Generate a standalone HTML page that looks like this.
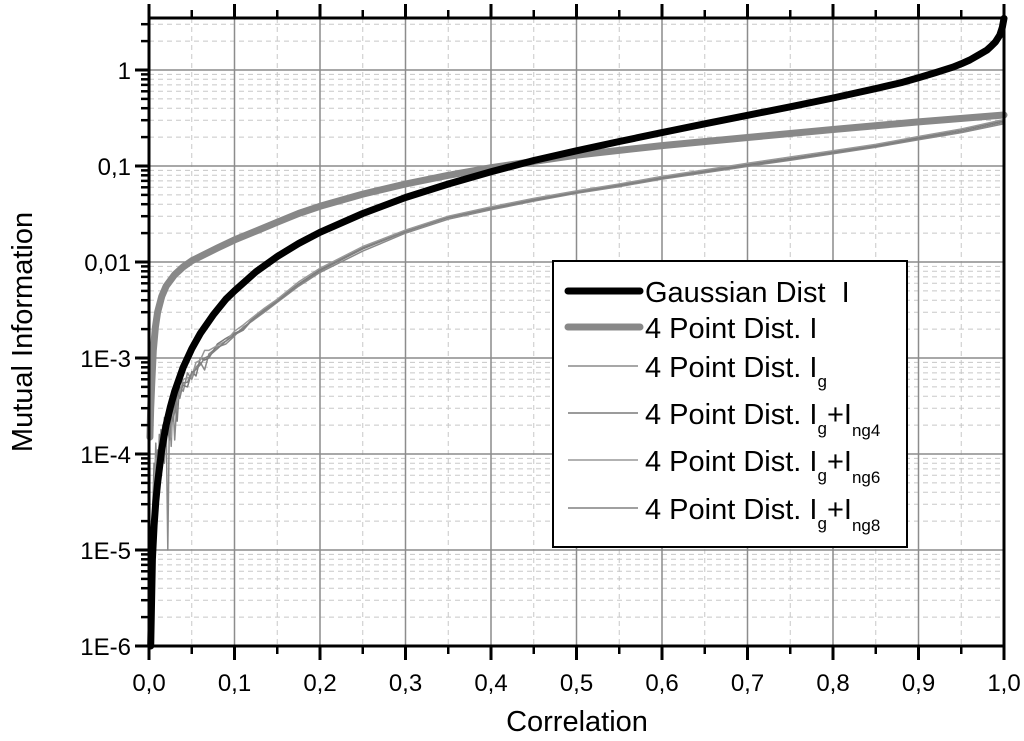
<!DOCTYPE html>
<html><head><meta charset="utf-8"><style>
html,body{margin:0;padding:0;background:#fff;}
svg{display:block;font-family:"Liberation Sans",Arial,sans-serif;}
</style></head><body>
<svg id="chart" width="1024" height="741" viewBox="0 0 1024 741" xmlns="http://www.w3.org/2000/svg">
<rect width="1024" height="741" fill="#fff"/>
<g id="grid"></g>
<g id="series"></g>
<g id="axes"></g>
<text x="32" y="332" font-size="29" text-anchor="middle" transform="rotate(-90 32 332)">Mutual Information</text>
<text x="577" y="731" font-size="29" text-anchor="middle">Correlation</text>
<g>
<rect x="553" y="261" width="354" height="286" fill="#fff" stroke="#000" stroke-width="2"/>
<line x1="568" y1="291" x2="640" y2="291" stroke="#000" stroke-width="7" stroke-linecap="round"/>
<text x="645" y="302" font-size="29" xml:space="preserve">Gaussian Dist  I</text>
<line x1="568" y1="327" x2="640" y2="327" stroke="#888" stroke-width="7" stroke-linecap="round"/>
<text x="645" y="338" font-size="29">4 Point Dist. I</text>
<line x1="568" y1="366" x2="638" y2="366" stroke="#8a8a8a" stroke-width="1.5"/>
<text x="645" y="377" font-size="29">4 Point Dist. I<tspan font-size="17" dy="10">g</tspan></text>
<line x1="568" y1="413" x2="638" y2="413" stroke="#7a7a7a" stroke-width="1.5"/>
<text x="645" y="424" font-size="29">4 Point Dist. I<tspan font-size="17" dy="10">g</tspan><tspan dy="-10">+I</tspan><tspan font-size="17" dy="12">ng4</tspan></text>
<line x1="568" y1="460" x2="638" y2="460" stroke="#999" stroke-width="1.5"/>
<text x="645" y="471" font-size="29">4 Point Dist. I<tspan font-size="17" dy="10">g</tspan><tspan dy="-10">+I</tspan><tspan font-size="17" dy="12">ng6</tspan></text>
<line x1="568" y1="508" x2="638" y2="508" stroke="#808080" stroke-width="1.5"/>
<text x="645" y="519" font-size="29">4 Point Dist. I<tspan font-size="17" dy="10">g</tspan><tspan dy="-10">+I</tspan><tspan font-size="17" dy="12">ng8</tspan></text>
</g>
</svg>
<script>
const xTickValues=[0,0.1,0.2,0.3,0.4,0.5,0.6,0.7,0.8,0.9,1.0];
const xTickLabels=["0,0","0,1","0,2","0,3","0,4","0,5","0,6","0,7","0,8","0,9","1,0"];
const yTickValues=[1,0.1,0.01,1e-3,1e-4,1e-5,1e-6];
const yTickLabels=["1","0,1","0,01","1E-3","1E-4","1E-5","1E-6"];

const gaussX=[0.002,0.004,0.006,0.008,0.01,0.015,0.02,0.025,0.03,0.04,0.05,0.06,0.075,0.09,0.1,0.125,0.15,0.175,0.2,0.25,0.3,0.35,0.4,0.45,0.5,0.55,0.6,0.65,0.7,0.75,0.8,0.85,0.88,0.9,0.92,0.94,0.95,0.96,0.97,0.98,0.985,0.99,0.995,0.998,1.0];
const gaussY=[1e-6,8e-6,1.8e-5,3.2e-5,5e-5,1.13e-4,2e-4,3.1e-4,4.5e-4,8e-4,1.25e-3,1.8e-3,2.8e-3,4.1e-3,5e-3,7.9e-3,1.14e-2,1.56e-2,2.04e-2,3.2e-2,4.7e-2,6.5e-2,8.7e-2,0.114,0.144,0.18,0.223,0.275,0.337,0.414,0.511,0.64,0.74,0.83,0.94,1.07,1.16,1.27,1.43,1.61,1.77,1.96,2.3,2.77,3.45];

const fourX=[0.001,0.002,0.003,0.005,0.0075,0.01,0.015,0.02,0.03,0.04,0.05,0.065,0.08,0.1,0.125,0.15,0.175,0.2,0.25,0.3,0.35,0.4,0.5,0.6,0.7,0.8,0.9,1.0];
const fourY=[1.5e-4,3e-4,5e-4,1.2e-3,2.1e-3,3e-3,4.4e-3,5.6e-3,7.4e-3,8.9e-3,1.03e-2,1.2e-2,1.4e-2,1.7e-2,2.1e-2,2.6e-2,3.2e-2,3.8e-2,5.1e-2,6.5e-2,8e-2,9.6e-2,0.13,0.163,0.198,0.24,0.288,0.34];

const thinX=[0.002,0.004,0.006,0.008,0.01,0.012,0.014,0.016,0.018,0.02,0.022,0.024,0.026,0.028,0.03,0.033,0.036,0.04,0.045,0.05,0.055,0.06,0.065,0.07,0.08,0.09,0.1,0.11,0.12,0.135,0.15,0.175,0.2,0.25,0.3,0.35,0.4,0.45,0.5,0.55,0.6,0.65,0.7,0.75,0.8,0.85,0.9,0.95,1.0];
const igY=[2e-6,9e-6,3e-5,1.3e-4,4e-5,1.6e-4,6e-5,2e-4,8e-5,2.5e-4,1e-5,3e-4,1.2e-4,3.5e-4,1.4e-4,4e-4,5e-4,4.5e-4,7e-4,6e-4,8e-4,9e-4,7.5e-4,1.1e-3,1.3e-3,1.4e-3,1.7e-3,2.1e-3,2.4e-3,3e-3,3.8e-3,5.6e-3,7.8e-3,1.3e-2,2e-2,2.8e-2,3.5e-2,4.3e-2,5.2e-2,6.1e-2,7.3e-2,8.5e-2,0.099,0.115,0.134,0.157,0.188,0.223,0.275];
const ing4Y=[4e-6,2e-5,8e-5,4e-5,1.1e-4,7e-5,1.8e-4,9e-5,2.4e-4,1.2e-4,3e-4,2e-4,1.7e-4,2.8e-4,3.3e-4,2.2e-4,6e-4,5.2e-4,5e-4,7.2e-4,6.5e-4,1e-3,9.5e-4,1e-3,1.4e-3,1.6e-3,1.8e-3,2e-3,2.5e-3,3.2e-3,4e-3,5.9e-3,8.3e-3,1.4e-2,2.1e-2,2.95e-2,3.65e-2,4.5e-2,5.4e-2,6.4e-2,7.6e-2,8.9e-2,0.104,0.12,0.14,0.164,0.198,0.238,0.295];
const ing6Y=[1e-6,1.5e-5,5e-5,9e-5,6e-5,1.3e-4,1e-4,1.5e-4,2.2e-4,1.6e-4,2.4e-4,2.8e-4,1.5e-4,3e-4,4.2e-4,3.6e-4,4.2e-4,6e-4,6.2e-4,6.4e-4,9e-4,9.5e-4,1.2e-3,1.2e-3,1.35e-3,1.5e-3,1.9e-3,2.2e-3,2.6e-3,3.3e-3,4.1e-3,6.2e-3,8.6e-3,1.45e-2,2.15e-2,3e-2,3.75e-2,4.6e-2,5.5e-2,6.5e-2,7.8e-2,9.1e-2,0.107,0.124,0.144,0.168,0.203,0.243,0.305];
const ing8Y=[3e-6,6e-6,4e-5,6e-5,1e-4,5e-5,1.4e-4,1.2e-4,1.1e-4,2e-4,1.8e-4,1.4e-4,2.6e-4,2.2e-4,2.8e-4,4.4e-4,3.8e-4,5.5e-4,5.6e-4,7e-4,7.6e-4,8.5e-4,1e-3,1.05e-3,1.25e-3,1.5e-3,1.75e-3,1.95e-3,2.45e-3,3.1e-3,3.9e-3,5.8e-3,8.1e-3,1.37e-2,2.07e-2,2.9e-2,3.6e-2,4.4e-2,5.3e-2,6.3e-2,7.45e-2,8.7e-2,0.101,0.117,0.137,0.16,0.193,0.23,0.285];

const X0=149,X1=1004,Y1=70,DEC=96,TOP=18,BOT=646;
function sx(v){return X0+(X1-X0)*v;}
function sy(v){return Y1-Math.log10(v)*DEC;}
const NS="http://www.w3.org/2000/svg";
function mk(tag,attrs,parent){const e=document.createElementNS(NS,tag);for(const k in attrs)e.setAttribute(k,attrs[k]);parent.appendChild(e);return e;}
const grid=document.getElementById('grid'),axes=document.getElementById('axes'),ser=document.getElementById('series');

for(let d=0;d>=-6;d--){for(let m=2;m<=9;m++){const v=m*Math.pow(10,d-1);const y=sy(v);if(y<TOP||y>BOT)continue;
 const l=mk('line',{x1:X0,x2:X1,y1:y,y2:y,stroke:'#c8c8c8','stroke-width':1,'stroke-dasharray':'5,4'},grid);
 
 
 mk('line',{x1:X0-8,x2:X0,y1:y,y2:y,stroke:'#000','stroke-width':2.5},axes);}}
for(let v=2;v<=3;v++){const y=sy(v);mk('line',{x1:X0,x2:X1,y1:y,y2:y,stroke:'#c8c8c8','stroke-width':1,'stroke-dasharray':'5,4'},grid);mk('line',{x1:X0-8,x2:X0,y1:y,y2:y,stroke:'#000','stroke-width':2.5},axes);}
for(let i=0;i<10;i++){const x=sx(i*0.1+0.05);
 const l=mk('line',{x1:x,x2:x,y1:TOP,y2:BOT,stroke:'#c8c8c8','stroke-width':1,'stroke-dasharray':'5,4'},grid);
 
 
 mk('line',{x1:x,x2:x,y1:BOT,y2:BOT+8,stroke:'#000','stroke-width':2.5},axes);
 mk('line',{x1:x,x2:x,y1:TOP,y2:TOP-8,stroke:'#000','stroke-width':2.5},axes);}
yTickValues.forEach((v,i)=>{const y=sy(v);
 const l=mk('line',{x1:X0,x2:X1,y1:y,y2:y,stroke:'#8c8c8c','stroke-width':1.5},grid);
 
 
 mk('line',{x1:X0-14,x2:X0,y1:y,y2:y,stroke:'#000','stroke-width':3},axes);
 const t=mk('text',{x:X0-18,y:y+9,'font-size':24,'text-anchor':'end'},axes);t.textContent=yTickLabels[i];
 
 });
xTickValues.forEach((v,i)=>{const x=sx(v);
 const l=mk('line',{x1:x,x2:x,y1:TOP,y2:BOT,stroke:'#8c8c8c','stroke-width':1.5},grid);
 
 
 mk('line',{x1:x,x2:x,y1:BOT,y2:BOT+14,stroke:'#000','stroke-width':3},axes);
 mk('line',{x1:x,x2:x,y1:TOP,y2:TOP-14,stroke:'#000','stroke-width':3},axes);
 const t=mk('text',{x:x,y:691,'font-size':24,'text-anchor':'middle'},axes);t.textContent=xTickLabels[i];
 
 });
const fr=mk('rect',{x:X0,y:TOP,width:X1-X0,height:BOT-TOP,fill:'none',stroke:'#000','stroke-width':3},axes);



function path(xs,ys,color,w,name){let d='';xs.forEach((x,i)=>{let y=sy(ys[i]);if(y>BOT)y=BOT;d+=(i?'L':'M')+sx(x).toFixed(1)+','+y.toFixed(1);});
 const p=mk('path',{d:d,fill:'none',stroke:color,'stroke-width':w,'stroke-linejoin':'round','stroke-linecap':'round'},ser);
 
 }
path(thinX,igY,'#8a8a8a',1.5,'line-4point-ig');
path(thinX,ing4Y,'#7a7a7a',1.5,'line-4point-ig-ing4');
path(thinX,ing6Y,'#999',1.5,'line-4point-ig-ing6');
path(thinX,ing8Y,'#808080',1.5,'line-4point-ig-ing8');
path(fourX,fourY,'#888',7,'line-4point-i');
path(gaussX,gaussY,'#000',7,'line-gaussian-i');
</script>
</body></html>
